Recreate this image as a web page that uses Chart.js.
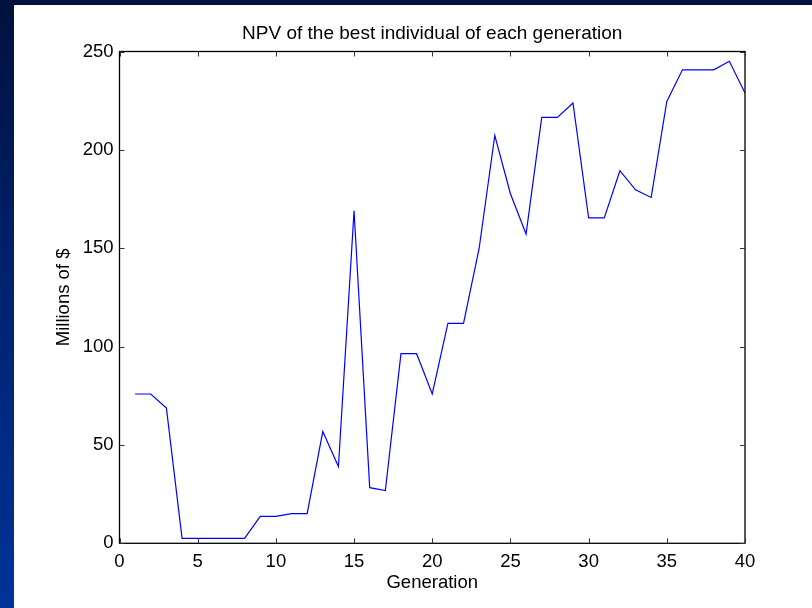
<!DOCTYPE html>
<html>
<head>
<meta charset="utf-8">
<script src="https://cdn.jsdelivr.net/npm/chart.js@4.4.0/dist/chart.umd.min.js"></script>
<style>
  html, body { margin: 0; padding: 0; }
  body {
    width: 812px; height: 608px; overflow: hidden; position: relative;
    background: linear-gradient(to bottom, #00113d 0%, #00226f 45%, #003399 100%);
  }
  #paper { position: absolute; left: 14px; top: 5px; width: 798px; height: 603px; background: #fff; }
  #myChart { position: absolute; left: 0; top: 0; }
</style>
</head>
<body>
<div id="paper"></div>
<canvas id="myChart" width="812" height="608"></canvas>
<script>
const chartTitle = "NPV of the best individual of each generation";
const xLabel = "Generation";
const yLabel = "Millions of $";

const generations = [
  1, 2, 3, 4, 5, 6, 7, 8, 9, 10, 11, 12, 13, 14, 15, 16, 17, 18, 19, 20,
  21, 22, 23, 24, 25, 26, 27, 28, 29, 30, 31, 32, 33, 34, 35, 36, 37, 38, 39, 40,
];
const npv = [
  75.9, 75.9, 68.7, 2.5, 2.5, 2.5, 2.5, 2.5, 13.7, 13.7,
  15.1, 15.1, 56.8, 39.0, 169.0, 28.3, 26.8, 96.4, 96.4, 75.9,
  111.8, 111.8, 150.0, 207.3, 177.7, 157.2, 216.5, 216.5, 223.8, 165.4,
  165.4, 189.4, 179.7, 175.8, 224.6, 240.7, 240.7, 240.7, 245.0, 228.9,
];

const xMin = 0, xMax = 40, xStep = 5;
const yMin = 0, yMax = 250, yStep = 50;

const points = generations.map((g, i) => ({ x: g, y: npv[i] }));

// matlab style box with inward ticks on all four sides
const frame = {
  id: "frame",
  afterDraw(chart) {
    const { ctx, chartArea: a, scales } = chart;
    const tl = 5;
    ctx.save();
    ctx.strokeStyle = "#000";
    ctx.lineWidth = 1.3;
    ctx.strokeRect(a.left, a.top, a.right - a.left, a.bottom - a.top);
    ctx.lineWidth = 1;
    ctx.strokeStyle = "#333";
    ctx.beginPath();
    scales.x.ticks.forEach(t => {
      const px = Math.round(scales.x.getPixelForValue(t.value)) + 0.5;
      ctx.moveTo(px, a.bottom); ctx.lineTo(px, a.bottom - tl);
      ctx.moveTo(px, a.top); ctx.lineTo(px, a.top + tl);
    });
    scales.y.ticks.forEach(t => {
      const py = Math.round(scales.y.getPixelForValue(t.value)) + 0.5;
      ctx.moveTo(a.left, py); ctx.lineTo(a.left + tl, py);
      ctx.moveTo(a.right, py); ctx.lineTo(a.right - tl, py);
    });
    ctx.stroke();
    ctx.restore();
  },
};

const ctx = document.getElementById("myChart");

new Chart(ctx, {
  type: "line",
  data: {
    datasets: [
      {
        data: points,
        borderColor: "#0000ff",
        borderWidth: 1.2,
        pointRadius: 0,
        tension: 0,
        fill: false,
      },
    ],
  },
  options: {
    responsive: false,
    animation: false,
    layout: { padding: { left: 14, right: 67, top: 22.3, bottom: 0 } },
    plugins: {
      legend: { display: false },
      tooltip: { enabled: false },
      title: {
        display: true,
        text: chartTitle,
        fullSize: false,
        color: "#000",
        font: { family: "Liberation Sans, Arial, sans-serif", size: 19, weight: "normal" },
        padding: { top: 0, bottom: 6.4 },
      },
    },
    scales: {
      x: {
        type: "linear",
        min: xMin,
        max: xMax,
        afterFit(scale) { scale.height = 64.7; },
        grid: { display: false, drawTicks: false },
        border: { display: false },
        ticks: {
          stepSize: xStep,
          padding: 7.5,
          color: "#000",
          font: { family: "Liberation Sans, Arial, sans-serif", size: 18.5 },
        },
        title: {
          display: true,
          text: xLabel,
          color: "#000",
          font: { family: "Liberation Sans, Arial, sans-serif", size: 18.5 },
          padding: { top: 0, bottom: 14 },
        },
      },
      y: {
        min: yMin,
        max: yMax,
        afterFit(scale) { scale.width = 105.5; },
        grid: { display: false, drawTicks: false },
        border: { display: false },
        ticks: {
          stepSize: yStep,
          padding: 6,
          color: "#000",
          font: { family: "Liberation Sans, Arial, sans-serif", size: 18.5 },
        },
        title: {
          display: true,
          text: yLabel,
          color: "#000",
          font: { family: "Liberation Sans, Arial, sans-serif", size: 18.5 },
          padding: { top: 38.4, bottom: 0 },
        },
      },
    },
  },
  plugins: [frame],
});
</script>
</body>
</html>
